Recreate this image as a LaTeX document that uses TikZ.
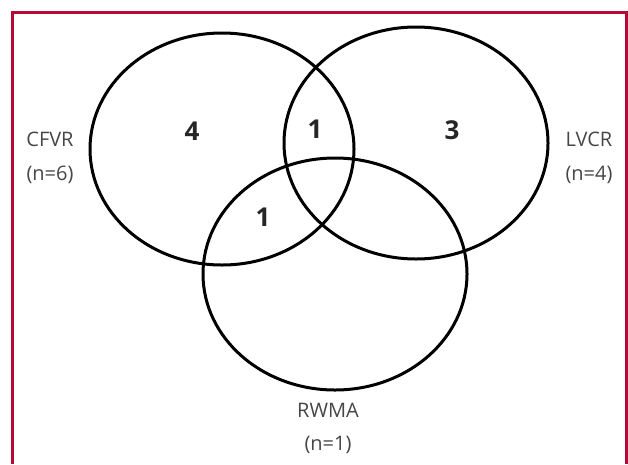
\documentclass[tikz,border=0pt]{standalone}
\usepackage{fontspec}
\setmainfont{Open Sans}
\usetikzlibrary{positioning}
\definecolor{framered}{RGB}{180,10,55}
\definecolor{labelgray}{RGB}{70,70,70}
\tikzstyle{venn} = [
  x=1pt,
  y=-1pt,
  line width=3pt,
]
\tikzstyle{setlabel} = [
  text=labelgray,
  font=\fontsize{20}{22}\selectfont,
  align=center,
]
\tikzstyle{count} = [
  text=black!85,
  font=\fontsize{26}{28}\selectfont\bfseries,
]

\begin{document}
\begin{tikzpicture}[venn]
      \def\xradius{132pt}
      \def\yradius{116pt}
      \useasboundingbox (0,0) rectangle (628,464);

      % Frame
      \draw[framered, line width=2.4pt] (12.5,464) -- (12.5,12.5) -- (626.5,12.5) -- (626.5,464);

      \coordinate (CFVR) at (222,149);
      \coordinate (LVCR) at (416,143);
      \coordinate (RWMA) at (335,274);

      % Ellipses
      \draw (CFVR) ellipse [x radius=\xradius, y radius=\yradius];
      \draw (LVCR) ellipse [x radius=\xradius, y radius=\yradius];
      \draw (RWMA) ellipse [x radius=\xradius, y radius=\yradius];

      % Labels
      \node[setlabel] (cfvr) at (50,139) {CFVR};
      \node[setlabel] (cfvrn) at (50,175) {(n=6)};
      \node[setlabel] (lvcr) at (589,139) {LVCR};
      \node[setlabel] (lvcrn) at (589,175) {(n=4)};
      \node[setlabel] (rwma) at (328,410) {RWMA};
      \node[setlabel] (rwman) at (328,445) {(n=1)};

      % Counts
      \node[count] (onlyc) at (192,131) {4};
      \node[count] (cl) at (315,129) {1};
      \node[count] (onlyl) at (452,130) {3};
      \node[count] (cr) at (263,217) {1};
    \end{tikzpicture}
\end{document}
